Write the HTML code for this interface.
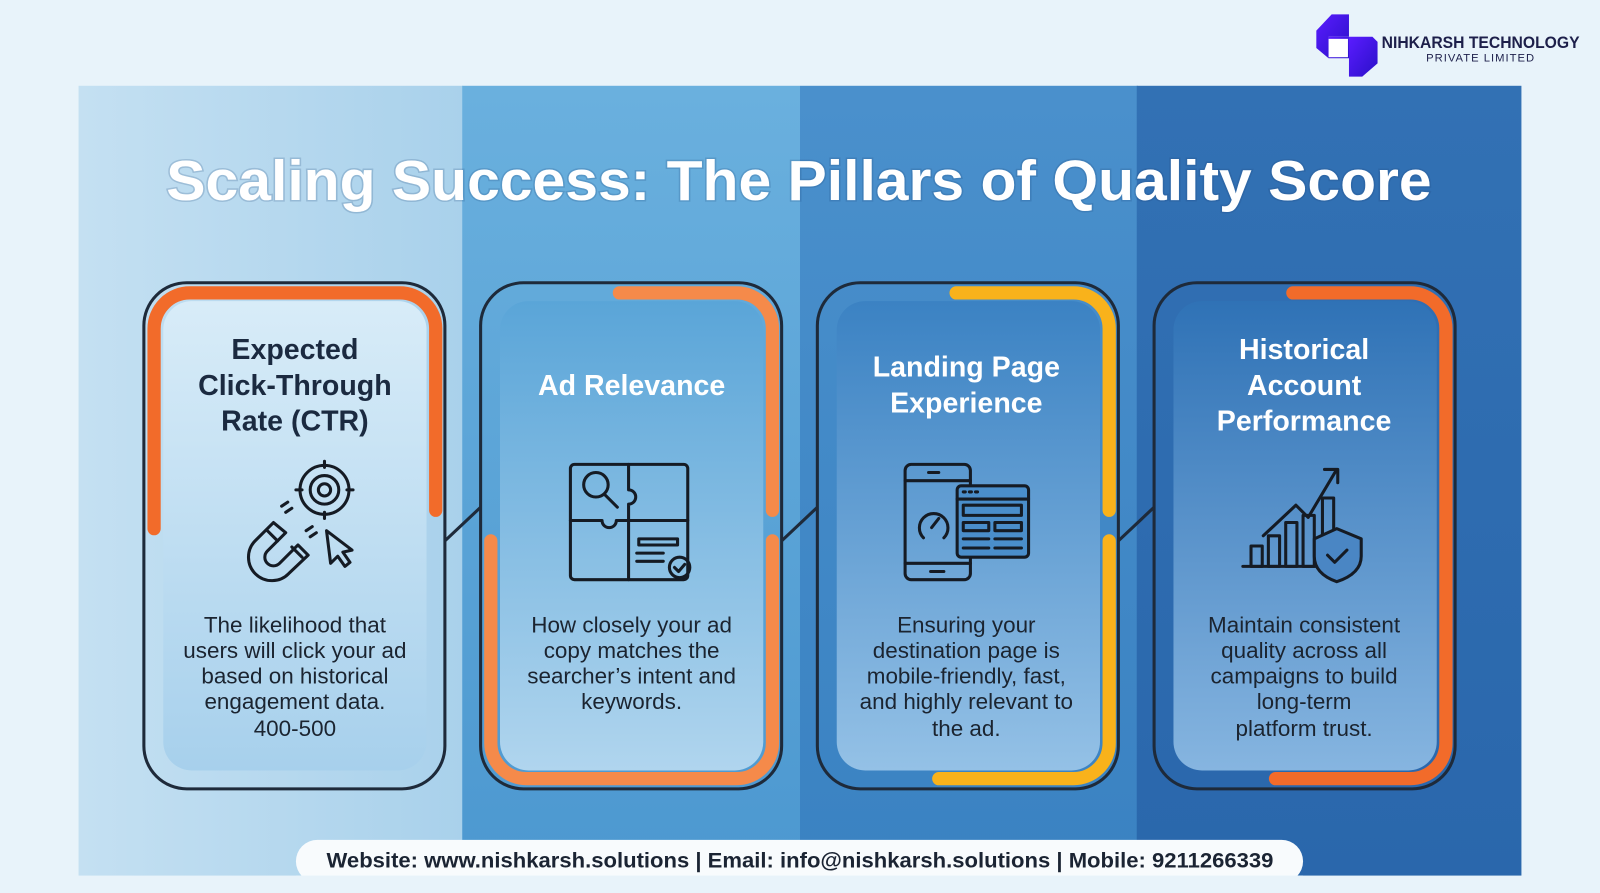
<!DOCTYPE html>
<html><head><meta charset="utf-8"><style>
html,body{margin:0;padding:0;background:#e8f3fa;}
svg{display:block}
text{font-family:"Liberation Sans",sans-serif;}
</style></head><body>
<svg width="1600" height="893" viewBox="0 0 1568 875" xmlns="http://www.w3.org/2000/svg">
<defs>
<linearGradient id="c1" x1="0" y1="0" x2="1" y2="0"><stop offset="0" stop-color="#c4e0f2"/><stop offset="1" stop-color="#a9d1eb"/></linearGradient>
<linearGradient id="c2" x1="0" y1="0" x2="0" y2="1"><stop offset="0" stop-color="#6ab0de"/><stop offset="1" stop-color="#4c98d0"/></linearGradient>
<linearGradient id="c3" x1="0" y1="0" x2="0" y2="1"><stop offset="0" stop-color="#4a90cc"/><stop offset="1" stop-color="#3a82c2"/></linearGradient>
<linearGradient id="c4" x1="0" y1="0" x2="0" y2="1"><stop offset="0" stop-color="#3271b4"/><stop offset="1" stop-color="#2a67ac"/></linearGradient>
<linearGradient id="i1" x1="0" y1="0" x2="0" y2="1"><stop offset="0" stop-color="#d8ecf8"/><stop offset="1" stop-color="#a7d0ec"/></linearGradient>
<linearGradient id="i2" x1="0" y1="0" x2="0" y2="1"><stop offset="0" stop-color="#5aa5d8"/><stop offset="1" stop-color="#b0d5ee"/></linearGradient>
<linearGradient id="i3" x1="0" y1="0" x2="0" y2="1"><stop offset="0" stop-color="#3b82c3"/><stop offset="1" stop-color="#94c1e6"/></linearGradient>
<linearGradient id="i4" x1="0" y1="0" x2="0" y2="1"><stop offset="0" stop-color="#2f72b6"/><stop offset="1" stop-color="#86b5e0"/></linearGradient>
<linearGradient id="lg" x1="0" y1="0" x2="1" y2="1"><stop offset="0" stop-color="#5a1cff"/><stop offset="1" stop-color="#2a10c8"/></linearGradient>
</defs>
<rect width="1568" height="875" fill="#e8f3fa"/>
<!-- logo -->
<g fill="url(#lg)">
<polygon points="1305,14 1322,14 1322,36 1302,36 1302,57 1290,47 1290,30"/>
<polygon points="1322,36 1345,36 1350,41 1350,62 1335,75 1322,75 1322,57 1322,57"/>
<rect x="1302" y="36" width="20" height="21"/>
</g>
<rect x="1302" y="38" width="19" height="18" fill="#fff"/>
<text x="1354" y="47" font-size="16" font-weight="bold" fill="#1d1f4a" textLength="194" lengthAdjust="spacingAndGlyphs">NIHKARSH TECHNOLOGY</text>
<text x="1451" y="60" font-size="11" fill="#1d1f4a" text-anchor="middle" letter-spacing="1">PRIVATE LIMITED</text>
<!-- panel stripes -->
<rect x="77" y="84" width="377" height="774" fill="url(#c1)"/>
<rect x="453" y="84" width="331" height="774" fill="url(#c2)"/>
<rect x="784" y="84" width="331" height="774" fill="url(#c3)"/>
<rect x="1114" y="84" width="377" height="774" fill="url(#c4)"/>
<text x="163" y="196" font-size="55" font-weight="bold" fill="#fff" textLength="1240" lengthAdjust="spacingAndGlyphs" style="paint-order:stroke" stroke="rgba(30,70,120,0.2)" stroke-width="3">Scaling Success: The Pillars of Quality Score</text>

<!-- cards -->
<g stroke="#1e2a3a" stroke-width="3" fill="none">
<rect x="141" y="277" width="295" height="496" rx="42"/>
<rect x="471" y="277" width="295" height="496" rx="42"/>
<rect x="801" y="277" width="295" height="496" rx="42"/>
<rect x="1131" y="277" width="295" height="496" rx="42"/>
</g>
<g stroke="#1e2a3a" stroke-width="3" fill="none">
<path d="M436,530 L471,497"/>
<path d="M766,530 L801,497"/>
<path d="M1096,530 L1131,497"/>
</g>
<rect x="160" y="295" width="258" height="460" rx="28" fill="url(#i1)"/>
<rect x="490" y="295" width="258" height="460" rx="28" fill="url(#i2)"/>
<rect x="820" y="295" width="258" height="460" rx="28" fill="url(#i3)"/>
<rect x="1150" y="295" width="258" height="460" rx="28" fill="url(#i4)"/>
<g fill="none" stroke-width="13" stroke-linecap="round">
<path stroke="#f26b2a" d="M151,518 V322 A35,35 0 0 1 186,287 H392 A35,35 0 0 1 427,322 V500"/>
<path stroke="#f58a4a" d="M607,287 H722 A35,35 0 0 1 757,322 V500 M481,530 V728 A35,35 0 0 0 516,763 H722 A35,35 0 0 0 757,728 V530"/>
<path stroke="#f9b21b" d="M937,287 H1052 A35,35 0 0 1 1087,322 V500 M920,763 H1052 A35,35 0 0 0 1087,728 V530"/>
<path stroke="#f26b2a" d="M1267,287 H1382 A35,35 0 0 1 1417,322 V728 A35,35 0 0 1 1382,763 H1250"/>
</g>

<g font-size="28" font-weight="bold" text-anchor="middle">
<text fill="#1b2a40"><tspan x="289" y="352">Expected</tspan><tspan x="289" y="387">Click-Through</tspan><tspan x="289" y="422">Rate (CTR)</tspan></text>
<text fill="#fff" x="619" y="387">Ad Relevance</text>
<text fill="#fff"><tspan x="947" y="369">Landing Page</tspan><tspan x="947" y="404">Experience</tspan></text>
<text fill="#fff"><tspan x="1278" y="352">Historical</tspan><tspan x="1278" y="387">Account</tspan><tspan x="1278" y="422">Performance</tspan></text>
</g>
<g font-size="22" fill="#1b2430" text-anchor="middle">
<text><tspan x="289" y="620">The likelihood that</tspan><tspan x="289" y="645">users will click your ad</tspan><tspan x="289" y="670">based on historical</tspan><tspan x="289" y="695">engagement data.</tspan><tspan x="289" y="721">400-500</tspan></text>
<text><tspan x="619" y="620">How closely your ad</tspan><tspan x="619" y="645">copy matches the</tspan><tspan x="619" y="670">searcher’s intent and</tspan><tspan x="619" y="695">keywords.</tspan></text>
<text><tspan x="947" y="620">Ensuring your</tspan><tspan x="947" y="645">destination page is</tspan><tspan x="947" y="670">mobile-friendly, fast,</tspan><tspan x="947" y="695">and highly relevant to</tspan><tspan x="947" y="721">the ad.</tspan></text>
<text><tspan x="1278" y="620">Maintain consistent</tspan><tspan x="1278" y="645">quality across all</tspan><tspan x="1278" y="670">campaigns to build</tspan><tspan x="1278" y="695">long-term</tspan><tspan x="1278" y="721">platform trust.</tspan></text>
</g>

<g fill="none" stroke="#151b24" stroke-width="3" stroke-linejoin="round" stroke-linecap="round">
<circle cx="318" cy="480" r="24"/><circle cx="318" cy="480" r="14"/><circle cx="318" cy="480" r="6"/>
<path d="M318,452 V458 M318,502 V508 M290,480 H296 M340,480 H346"/>
<path d="M268,512 L250,530 A22,22 0 0 0 283,562 L302,544 L292,534 L274,552 A8,8 0 0 1 262,540 L280,522 Z"/>
<path d="M262,520 L272,530 M286,536 L296,546"/>
<path d="M276,496 l6,-4 M280,502 l6,-4 M300,520 l6,-4 M304,526 l6,-4"/>
<path d="M320,520 L324,552 L331,545 L338,555 L343,551 L336,541 L345,539 Z"/>
<rect x="559" y="455" width="115" height="113" rx="4"/>
<path d="M616,455 V480 a7,7 0 0 1 0,14 V568 M559,510 H590 a7,7 0 0 0 14,0 H674"/>
<circle cx="584" cy="475" r="12"/><path d="M592,484 L605,497"/>
<rect x="626" y="528" width="38" height="6"/><path d="M624,542 H650 M624,550 H650"/>
<circle cx="666" cy="556" r="10"/><path d="M661,556 l4,4 l6,-7"/>
<rect x="887" y="455" width="64" height="113" rx="6"/>
<path d="M887,471 H951 M887,552 H951 M910,463 H920 M912,560 H925"/>
<path d="M905,527 A14,14 0 1 1 925,527"/><path d="M913,517 L920,508"/>
<rect x="938" y="476" width="70" height="70" rx="4" fill="#4a8ecb"/>
<path d="M938,489 H1008 M944,482 h2 M950,482 h2 M956,482 h2"/>
<rect x="944" y="495" width="57" height="10"/><rect x="944" y="512" width="25" height="8"/><rect x="975" y="512" width="26" height="8"/>
<path d="M944,528 H969 M975,528 H1001 M944,537 H969 M975,537 H1001"/>
<path d="M1218,555 H1290"/>
<rect x="1226" y="535" width="11" height="20"/><rect x="1243" y="525" width="11" height="30"/><rect x="1260" y="512" width="11" height="43"/><rect x="1277" y="505" width="11" height="50"/><rect x="1296" y="488" width="11" height="40"/>
<path d="M1238,525 L1270,495 L1282,507 L1310,460 M1298,460 H1311 V473"/>
<path d="M1310,518 L1334,528 V545 Q1334,562 1310,570 Q1288,562 1288,545 V528 Z" fill="#4a86c4"/>
<path d="M1301,544 l7,7 l12,-12"/>
</g>

<rect x="290" y="823" width="987" height="42" rx="21" fill="#f8fbfd"/>
<rect x="290" y="858" width="987" height="17" fill="#e8f3fa"/>
<text x="320" y="850" font-size="21" font-weight="bold" fill="#1b2433" textLength="928" lengthAdjust="spacingAndGlyphs">Website: www.nishkarsh.solutions | Email: info@nishkarsh.solutions | Mobile: 9211266339</text>
</svg>
</body></html>
